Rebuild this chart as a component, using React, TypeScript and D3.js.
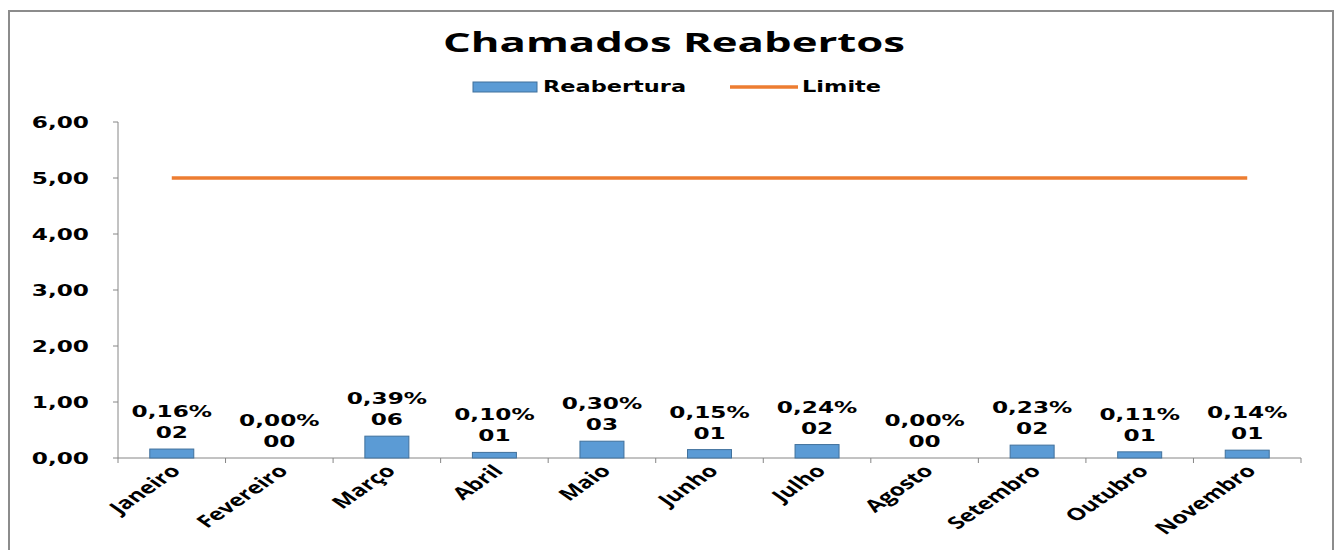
import React from 'react';
import * as d3 from 'd3';

const months = ['Janeiro', 'Fevereiro', 'Março', 'Abril', 'Maio', 'Junho', 'Julho', 'Agosto', 'Setembro', 'Outubro', 'Novembro'];
const reabertura = [0.16, 0.0, 0.39, 0.1, 0.3, 0.15, 0.24, 0.0, 0.23, 0.11, 0.14];
const counts = ['02', '00', '06', '01', '03', '01', '02', '00', '02', '01', '01'];
const limite = [5, 5, 5, 5, 5, 5, 5, 5, 5, 5, 5];
const yTicks = [0, 1, 2, 3, 4, 5, 6];

const W = 1337;
const H = 550;
const SX = 1.45; // the source picture is stretched horizontally
const numFont = '"DejaVu Sans", Verdana, sans-serif';
const textFont = '"Open Sans", "DejaVu Sans", sans-serif';

const fmt = (v: number) => v.toFixed(2).replace('.', ',');

export default function App() {
  const x = d3.scaleBand<string>().domain(months).range([118, 1301]);
  const y = d3.scaleLinear().domain([0, 6]).range([458, 122]);
  const barW = 44;

  const line = d3
    .line<number>()
    .x((_, i) => (x(months[i]) as number) + x.bandwidth() / 2)
    .y((d) => y(d));

  const boundaries = months.map((m) => x(m) as number).concat([x.range()[1]]);

  return (
    <svg width={W} height={H} style={{ position: 'absolute', left: 0, top: 0, background: '#fff' }}>
      <rect x={9} y={11} width={1324} height={560} fill="#fff" stroke="#8c8c8c" strokeWidth={2} />

      {/* title */}
      <text
        x={674}
        y={52}
        textAnchor="middle"
        fontFamily={textFont}
        fontWeight={700}
        fontSize={26}
        textLength={462}
        lengthAdjust="spacingAndGlyphs"
        fill="#000"
      >
        Chamados Reabertos
      </text>

      {/* legend */}
      <rect x={473} y={82} width={64} height={10} fill="#5B9BD5" stroke="#41719C" strokeWidth={1} />
      <text transform={`translate(543,92) scale(${SX},1)`} fontFamily={numFont} fontWeight={700} fontSize={15.5} fill="#000">
        Reabertura
      </text>
      <line x1={730} x2={798} y1={87} y2={87} stroke="#ED7D31" strokeWidth={3.5} />
      <text transform={`translate(802,92) scale(${SX},1)`} fontFamily={numFont} fontWeight={700} fontSize={15.5} fill="#000">
        Limite
      </text>

      {/* y axis */}
      <line x1={118} x2={118} y1={y(6)} y2={y(0)} stroke="#868686" strokeWidth={1} />
      {yTicks.map((t) => (
        <g key={t}>
          <line x1={113} x2={118} y1={y(t)} y2={y(t)} stroke="#868686" />
          <text
            transform={`translate(89,${y(t) + 6}) scale(${SX},1)`}
            textAnchor="end"
            fontFamily={numFont}
            fontWeight={700}
            fontSize={16}
            fill="#000"
          >
            {fmt(t)}
          </text>
        </g>
      ))}

      {/* x axis */}
      <line x1={x.range()[0]} x2={x.range()[1]} y1={y(0)} y2={y(0)} stroke="#868686" strokeWidth={1} />
      {boundaries.map((b, i) => (
        <line key={i} x1={b} x2={b} y1={y(0)} y2={y(0) + 5} stroke="#868686" />
      ))}

      {/* bars */}
      {reabertura.map((v, i) => {
        const cx = (x(months[i]) as number) + x.bandwidth() / 2;
        return (
          <rect
            key={months[i]}
            x={cx - barW / 2}
            y={y(v)}
            width={barW}
            height={y(0) - y(v)}
            fill="#5B9BD5"
            stroke="#41719C"
            strokeWidth={1}
          />
        );
      })}

      {/* limit line */}
      <path d={line(limite) || ''} fill="none" stroke="#ED7D31" strokeWidth={3.5} />

      {/* data labels */}
      {reabertura.map((v, i) => {
        const cx = (x(months[i]) as number) + x.bandwidth() / 2;
        const top = y(v);
        return (
          <g key={months[i]} fontFamily={numFont} fontWeight={700} fontSize={16} fill="#000">
            <text transform={`translate(${cx},${top - 32}) scale(${SX},1)`} textAnchor="middle">
              {fmt(v)}%
            </text>
            <text transform={`translate(${cx},${top - 11}) scale(${SX},1)`} textAnchor="middle">
              {counts[i]}
            </text>
          </g>
        );
      })}

      {/* month labels */}
      {months.map((m) => {
        const cx = (x(m) as number) + x.bandwidth() / 2;
        return (
          <text
            key={m}
            transform={`translate(${cx + 10},${472}) scale(${SX},1) rotate(-45)`}
            textAnchor="end"
            fontFamily={textFont}
            fontWeight={700}
            fontSize={17}
            fill="#000"
          >
            {m}
          </text>
        );
      })}
    </svg>
  );
}
